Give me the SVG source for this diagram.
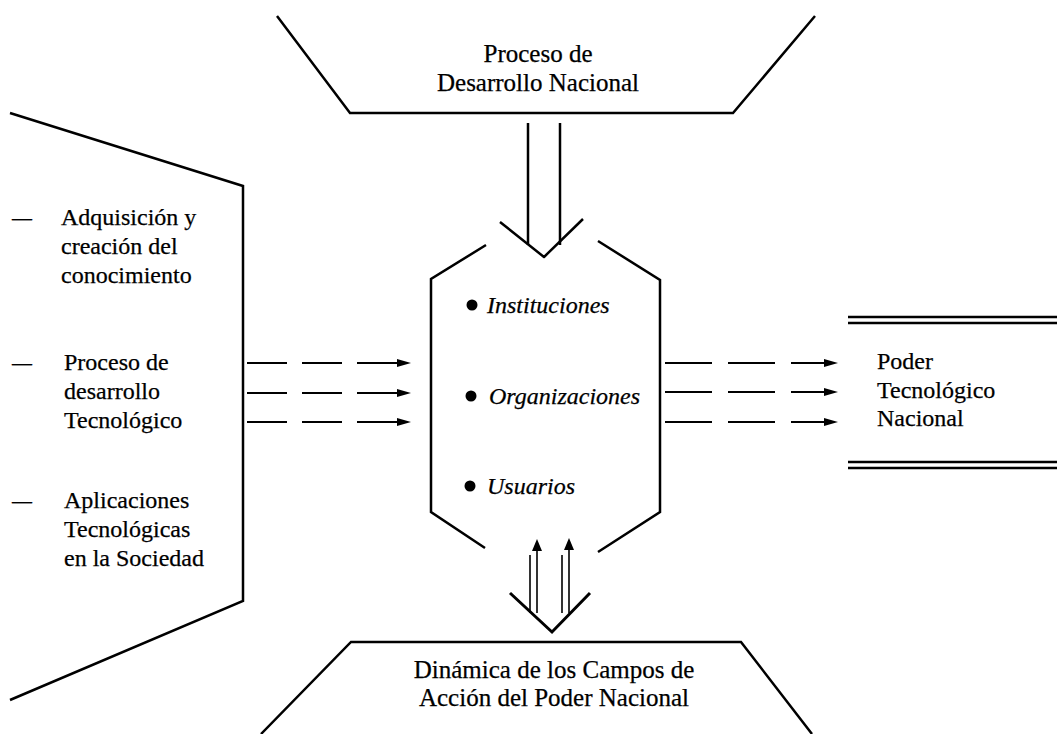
<svg xmlns="http://www.w3.org/2000/svg" width="1057" height="734" viewBox="0 0 1057 734">
<style>
.ln{fill:none;stroke:#000;stroke-width:2.5;stroke-linecap:butt}
.thin{fill:none;stroke:#000;stroke-width:1.6}
.dash{fill:none;stroke:#000;stroke-width:2}
.t,.tb,.it{font-family:"Liberation Serif","Times New Roman",serif;fill:#000;stroke:#000;stroke-width:0.25}
.t{font-size:24px}
.tb{font-size:25px}
.it{font-size:24px;font-style:italic}
</style>
<defs>
<marker id="ah" markerWidth="14" markerHeight="8" refX="0" refY="4" orient="auto" markerUnits="userSpaceOnUse">
<path d="M0,0 L14,4 L0,8 Z" fill="#000"/>
</marker>
<marker id="uh" markerWidth="12" markerHeight="10" refX="1" refY="5" orient="auto" markerUnits="userSpaceOnUse">
<path d="M0,0 L12,5 L0,10 Z" fill="#000"/>
</marker>
</defs>

<g id="top-node">
<polyline class="ln" points="277,16 350,113 733,113 815,16"/>
<text class="tb" x="538" y="62" text-anchor="middle">Proceso de</text>
<text class="tb" x="538" y="91" text-anchor="middle">Desarrollo Nacional</text>
</g>

<g id="left-node">
<polyline class="ln" points="10,113 243,186 243,601 10,700"/>
<text class="t" x="12" y="225" textLength="20" lengthAdjust="spacingAndGlyphs">—</text>
<text class="t" x="61" y="225">Adquisición y</text>
<text class="t" x="61" y="254">creación del</text>
<text class="t" x="61" y="283">conocimiento</text>
<text class="t" x="12" y="370" textLength="20" lengthAdjust="spacingAndGlyphs">—</text>
<text class="t" x="64" y="370">Proceso de</text>
<text class="t" x="64" y="399">desarrollo</text>
<text class="t" x="64" y="428">Tecnológico</text>
<text class="t" x="12" y="508" textLength="20" lengthAdjust="spacingAndGlyphs">—</text>
<text class="t" x="64" y="508">Aplicaciones</text>
<text class="t" x="64" y="537">Tecnológicas</text>
<text class="t" x="64" y="566">en la Sociedad</text>
</g>

<g id="center-node">
<polyline class="ln" points="486,245 431,279 431,512 485,548"/>
<polyline class="ln" points="598,241 660,280 660,512 598,552"/>
<circle cx="472" cy="305" r="5.5"/>
<text class="it" x="487" y="313">Instituciones</text>
<circle cx="471" cy="396" r="5.5"/>
<text class="it" x="489" y="404">Organizaciones</text>
<circle cx="470" cy="486" r="5.5"/>
<text class="it" x="487" y="494">Usuarios</text>
</g>

<g id="right-node">
<line class="ln" x1="848" y1="317" x2="1057" y2="317"/>
<line class="ln" x1="848" y1="323" x2="1057" y2="323"/>
<line class="ln" x1="848" y1="462" x2="1057" y2="462"/>
<line class="ln" x1="848" y1="468" x2="1057" y2="468"/>
<text class="t" x="877" y="369">Poder</text>
<text class="t" x="877" y="398">Tecnológico</text>
<text class="t" x="877" y="426">Nacional</text>
</g>

<g id="bottom-node">
<polyline class="ln" points="261,734 351,642 741,642 812,734"/>
<text class="tb" x="554" y="678" text-anchor="middle">Dinámica de los Campos de</text>
<text class="tb" x="554" y="706" text-anchor="middle">Acción del Poder Nacional</text>
</g>

<g id="connectors">
<line class="ln" x1="528" y1="123" x2="528" y2="245"/>
<line class="ln" x1="560" y1="123" x2="560" y2="245"/>
<polyline class="ln" points="500,222 544,257 583,219" style="stroke-linejoin:round"/>
<path class="dash" d="M247,363 H397" stroke-dasharray="40 15" marker-end="url(#ah)"/>
<path class="dash" d="M247,393 H397" stroke-dasharray="40 15" marker-end="url(#ah)"/>
<path class="dash" d="M247,422 H397" stroke-dasharray="40 15" marker-end="url(#ah)"/>
<path class="dash" d="M665,363 H824" stroke-dasharray="47 16" marker-end="url(#ah)"/>
<path class="dash" d="M665,392 H824" stroke-dasharray="47 16" marker-end="url(#ah)"/>
<path class="dash" d="M665,422 H824" stroke-dasharray="47 16" marker-end="url(#ah)"/>
<line class="thin" x1="530" y1="555" x2="530" y2="613"/>
<line class="thin" x1="537" y1="613" x2="537" y2="550" marker-end="url(#uh)"/>
<line class="thin" x1="562" y1="555" x2="562" y2="613"/>
<line class="thin" x1="569" y1="613" x2="569" y2="549" marker-end="url(#uh)"/>
<polyline class="ln" points="510,593 552,632 590,593" style="stroke-width:3"/>
</g>
</svg>
